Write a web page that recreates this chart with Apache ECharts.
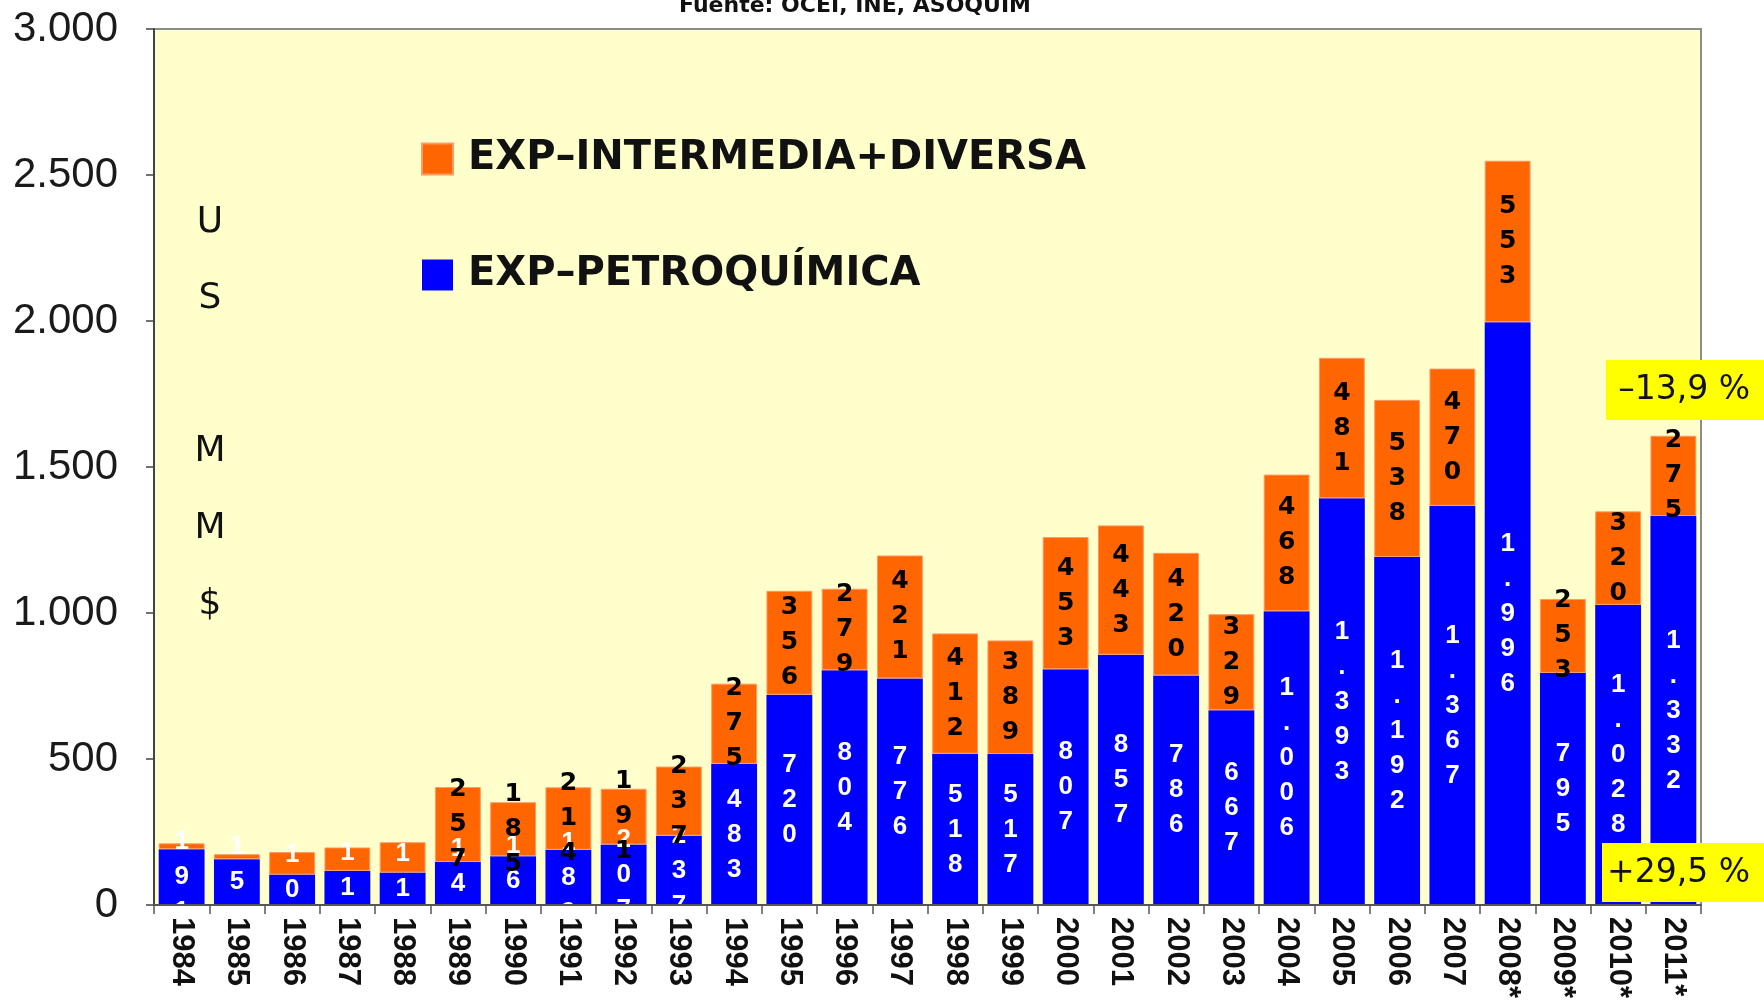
<!DOCTYPE html>
<html>
<head>
<meta charset="utf-8">
<script src="https://cdn.jsdelivr.net/npm/echarts@6/dist/echarts.min.js"></script>
<style>
  html, body { margin: 0; padding: 0; background: #fff; }
  #chart { width: 1764px; height: 1001px; }
</style>
</head>
<body>
<div id="chart"></div>
<script>
// datos (US MM$)
var years = ['1984','1985','1986','1987','1988','1989','1990','1991','1992','1993','1994','1995','1996','1997',
             '1998','1999','2000','2001','2002','2003','2004','2005','2006','2007','2008*','2009*','2010*','2011*'];
var petroquimica = [191,157,104,117,111,147,167,189,207,237,483,720,804,776,518,517,807,857,786,667,1006,1393,1192,1367,1996,795,1028,1332];
var intermedia   = [20,17,77,80,104,257,185,214,191,237,275,356,279,421,412,389,453,443,420,329,468,481,538,470,553,253,320,275];
var yTicks = [0,500,1000,1500,2000,2500,3000];
var nombres = ['EXP\u2013INTERMEDIA+DIVERSA','EXP\u2013PETROQU\u00cdMICA'];

// 1393 -> "1.393"
function miles(v){
  var s = String(v);
  if (v >= 1000) s = s.slice(0, s.length-3) + '.' + s.slice(-3);
  return s;
}
// "1.393" -> un digito por linea
function vertical(v){
  return miles(v).split('').join('\n');
}

var myChart = echarts.init(document.getElementById('chart'));
var option = {
  animation: false,
  backgroundColor: '#ffffff',
  grid: {
    left: 154, right: 63, top: 29, bottom: 94,
    show: true, backgroundColor: '#FFFFCC', borderColor: '#8c8c8c', borderWidth: 2
  },
  legend: {
    data: nombres,
    orient: 'vertical',
    left: 416, top: 129,
    itemWidth: 31, itemHeight: 31, itemGap: 66,
    icon: 'rect',
    selectedMode: false,
    textStyle: { fontFamily: 'DejaVu Sans', fontWeight: 'bold', fontSize: 40, color: '#111', lineHeight: 50, padding: [0,0,0,10] }
  },
  xAxis: {
    type: 'category',
    data: years,
    z: 10,
    boundaryGap: true,
    axisLine: { show: true, lineStyle: { color: '#555', width: 2 } },
    axisTick: { show: true, length: 9, lineStyle: { color: '#555', width: 1.5 } },
    axisLabel: { rotate: -90, margin: 12, fontFamily: 'Liberation Sans', fontWeight: 'bold', fontSize: 31, color: '#111', interval: 0 },
    splitLine: { show: false }
  },
  yAxis: {
    type: 'value',
    min: yTicks[0], max: yTicks[yTicks.length-1], interval: 500,
    axisLine: { show: true, lineStyle: { color: '#444', width: 2 } },
    axisTick: { show: true, length: 8, lineStyle: { color: '#444', width: 1.5 } },
    axisLabel: { margin: 36, fontFamily: 'Liberation Sans', fontSize: 42, color: '#1a1a1a', formatter: miles },
    splitLine: { show: false }
  },
  series: [
    {
      name: nombres[1], type: 'bar', stack: 'exp',
      barCategoryGap: '17%',
      itemStyle: { color: '#0000FF' },
      label: {
        show: true, position: 'inside', color: '#ffffff',
        fontFamily: 'Liberation Sans', fontWeight: 'bold', fontSize: 26, lineHeight: 35,
        formatter: function(p){ return vertical(p.value); }
      },
      data: petroquimica
    },
    {
      name: nombres[0], type: 'bar', stack: 'exp',
      barCategoryGap: '17%',
      itemStyle: { color: '#FF6600', borderColor: '#FF9966', borderWidth: 1 },
      label: {
        show: true, position: 'inside', color: '#000000',
        fontFamily: 'DejaVu Sans', fontWeight: 'bold', fontSize: 25, lineHeight: 35,
        formatter: function(p){ return p.dataIndex < 5 ? '' : vertical(p.value); }
      },
      data: intermedia
    }
  ],
  graphic: [
    { type: 'text', style: { text: 'Fuente: OCEI, INE, ASOQUIM', x: 855, y: 6, align: 'center', verticalAlign: 'middle',
      font: 'bold 22px "DejaVu Sans"', fill: '#111' } },
    { type: 'text', style: { text: 'U\nS\n\nM\nM\n$', x: 210, y: 184, align: 'center', verticalAlign: 'top',
      font: '36px "DejaVu Sans"', lineHeight: 76.5, fill: '#111' }, z: 10 },
    { type: 'rect', shape: { x: 1606, y: 360, width: 158, height: 60 }, style: { fill: '#FFFF00' }, z: 20 },
    { type: 'text', style: { text: '\u201313,9 %', x: 1750, y: 390, align: 'right', verticalAlign: 'middle',
      font: '33px "DejaVu Sans"', fill: '#111' }, z: 21 },
    { type: 'rect', shape: { x: 1602, y: 843, width: 162, height: 59 }, style: { fill: '#FFFF00' }, z: 20 },
    { type: 'text', style: { text: '+29,5 %', x: 1750, y: 873, align: 'right', verticalAlign: 'middle',
      font: '33px "DejaVu Sans"', fill: '#111' }, z: 21 }
  ]
};
myChart.setOption(option);
window.addEventListener('resize', function(){ myChart.resize(); });
</script>
</body>
</html>
